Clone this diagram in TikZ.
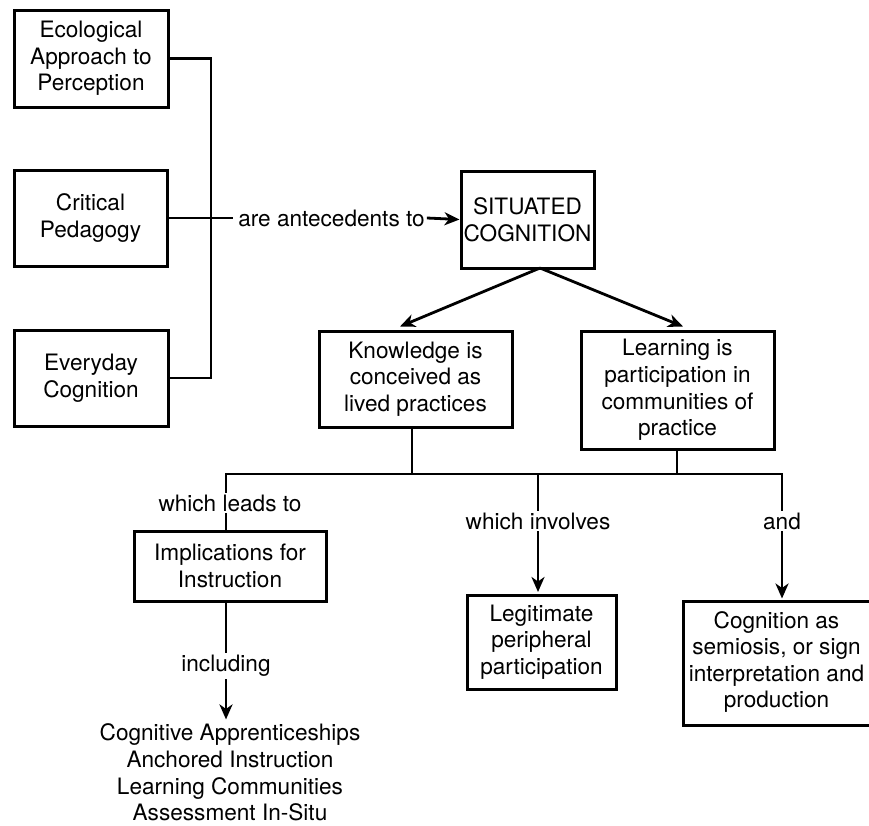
\documentclass[tikz,border=0pt]{standalone}
\usepackage{fontspec}
\setmainfont{TeX Gyre Heros}
\usetikzlibrary{arrows.meta,calc}
\begin{document}
\begin{tikzpicture}[x=1pt,y=-1pt,
  txt/.style={align=center,font=\fontsize{22.6}{26.6}\selectfont},
  frame/.style={draw,line width=3pt,inner sep=0pt},
  box/.style={txt,frame},
  lbl/.style={txt,fill=white,inner sep=2pt},
  link/.style={line width=2.8pt},
  arr/.style={link,-{Stealth[length=15pt,width=13pt,inset=4.5pt]}}]
\useasboundingbox (0,0) rectangle (869,825);
\clip (0,0) rectangle (869,825);

% antecedents
\node[box,minimum width=154pt,minimum height=97pt] (eco)   at (91,58.5) {Ecological\\Approach to\\Perception};
\node[box,minimum width=153pt,minimum height=96pt] (crit)  at (90.5,218) {Critical\\Pedagogy};
\node[box,minimum width=154pt,minimum height=96pt] (every) at (91,378) {Everyday\\Cognition};

% central concept and its two claims
\node[box,minimum width=133pt,minimum height=97pt]  (sit)   at (527.5,219.5) {SITUATED\\COGNITION};
\node[box,minimum width=193pt,minimum height=96pt] (know)  at (415.5,379) {Knowledge is\\conceived as\\lived practices};
\node[box,minimum width=193pt,minimum height=118pt] (learn) at (677.5,390) {Learning is\\participation in\\communities of\\practice};

% consequences
\node[box,minimum width=192pt,minimum height=70pt]  (impl)  at (230,566) {Implications for\\Instruction};
\node[box,minimum width=149pt,minimum height=94pt]  (legit) at (541.5,642) {Legitimate\\peripheral\\participation};
\node[frame,minimum width=200pt,minimum height=124pt,anchor=north west] (cognbox) at (682,600) {};
\node[txt] (cogn) at (776.5,662) {Cognition as\\semiosis, or sign\\interpretation and\\production};
\node[txt] (list) at (230,772.5) {Cognitive Apprenticeships\\Anchored Instruction\\Learning Communities\\Assessment In-Situ};

% bracket joining the antecedents
\coordinate (bar) at (211,218);
\draw[link] (eco.east) -| (bar) |- (every.east);
\node[txt,inner sep=0pt] (ante) at (331.5,218) {are antecedents to};
\draw[link] (crit.east) -- ($(ante.west)+(-5,0)$);
\draw[arr] ($(ante.east)+(2,0)$) -- (sit.west);

% split below the central concept
\coordinate (foot) at (540,268);
\draw[arr] (foot) -- ($(know.north)+(-15.5,-3)$);
\draw[arr] (foot) -- ($(learn.north)+(5.5,-3)$);

% bus joining both claims
\coordinate (kdrop) at (412,474);
\coordinate (ldrop) at (677,474);
\coordinate (bl) at (226,474);
\coordinate (bm) at (538,474);
\coordinate (br) at (782,474);
\draw[link] (know.south -| kdrop) -- (kdrop);
\draw[link] (learn.south -| ldrop) -- (ldrop);
\draw[link,line cap=rect] (bl) -- (br);

% branches with their labels
\draw[link] (bl) -- (bl |- impl.north);
\node[lbl] (lead) at (230,503) {which leads to};
\draw[arr] (bm) -- ($(bm |- legit.north)+(0,-1.5)$);
\node[lbl] (inv) at (538,521) {which involves};
\draw[arr] (br) -- ($(br |- cognbox.north)+(0,-1.5)$);
\node[lbl] (and) at (782,521) {and};

\coordinate (ifoot) at (226,601);
\draw[arr] (ifoot) -- ($(ifoot |- list.north)+(0,-1)$);
\node[lbl] (incl) at (226,666) {including};
\end{tikzpicture}
\end{document}
